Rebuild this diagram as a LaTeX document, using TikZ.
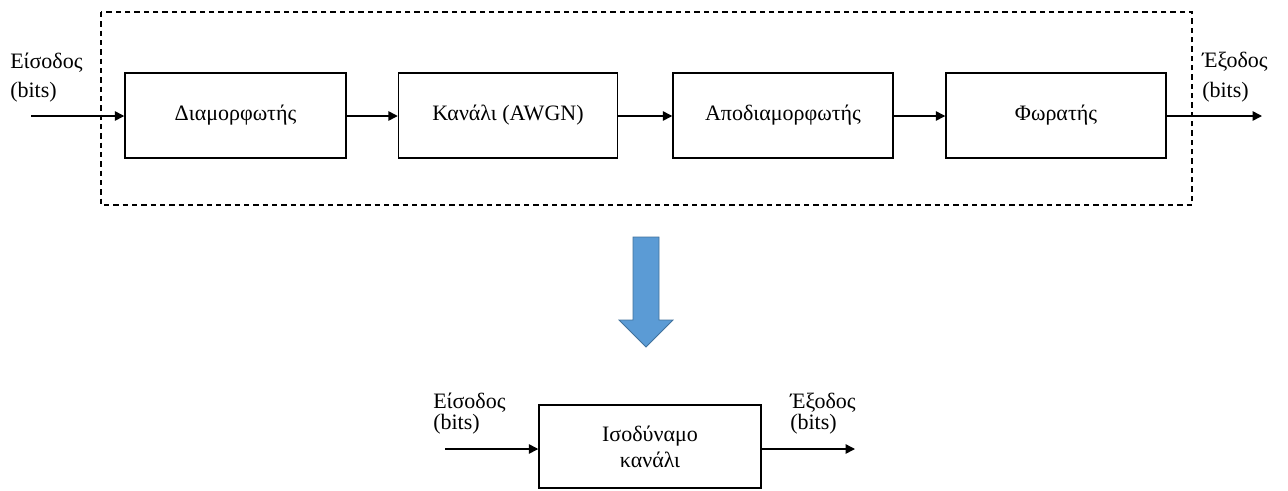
\documentclass[tikz,border=0pt]{standalone}
\usepackage{fontspec}
\setmainfont{Liberation Serif}
\usetikzlibrary{arrows.meta}
\begin{document}
\begin{tikzpicture}[x=0.75pt,y=-0.75pt,
  blk/.style={draw,line width=1.1pt,inner sep=0pt,font=\fontsize{16.5}{20}\selectfont},
  flow/.style={line width=1.1pt,-{Triangle[length=7pt,width=7pt]}},
  lbl/.style={inner sep=0pt,anchor=base west,font=\fontsize{16.5}{20}\selectfont},
  frame/.style={draw,line width=0.9pt,dash pattern=on 4pt off 3pt},
  bigarrow/.style={fill={rgb,255:red,91;green,155;blue,213},draw={rgb,255:red,65;green,113;blue,156},line width=0.6pt}]
\useasboundingbox (0,0) rectangle (1288,490);

% dashed frame around the transmission chain
\draw[frame] (101,12) rectangle (1192,205);

% processing chain
\node[blk,minimum width={221*0.75pt},minimum height={85*0.75pt}] (mod) at (235.5,115.5) {Διαμορφωτής};
\node[blk,minimum width={219*0.75pt},minimum height={85*0.75pt}] (chan) at (508,115.5) {Κανάλι (AWGN)};
\node[blk,minimum width={220*0.75pt},minimum height={85*0.75pt}] (demod) at (783,115.5) {Αποδιαμορφωτής};
\node[blk,minimum width={220*0.75pt},minimum height={85*0.75pt}] (det) at (1056,115.5) {Φωρατής};

% signal line of the chain
\coordinate (in1) at (31,116);
\coordinate (out1) at (1262,116);
\draw[flow] (in1) -- (in1 -| mod.west);
\draw[flow] (mod.east |- in1) -- (chan.west |- in1);
\draw[flow] (chan.east |- in1) -- (demod.west |- in1);
\draw[flow] (demod.east |- in1) -- (det.west |- in1);
\draw[flow] (det.east |- out1) -- (out1);

\node[lbl] (inlab1) at (10,68) {Είσοδος};
\node[lbl] (inbits1) at (10,97) {(bits)};
\node[lbl] (outlab1) at (1202,67) {Έξοδος};
\node[lbl] (outbits1) at (1202,97) {(bits)};

% reduction arrow
\draw[bigarrow] (633,237) -- (659,237) -- (659,320) -- (673,320) -- (646,347) -- (619,320) -- (633,320) -- cycle;

% equivalent channel
\node[blk,minimum width={222*0.75pt},minimum height={83*0.75pt},align=center,
  font=\fontsize{16.5}{19.5}\selectfont] (eq) at (650,446.5) {Ισοδύναμο\\κανάλι};
\coordinate (in2) at (445,449);
\coordinate (out2) at (855,449);
\draw[flow] (in2) -- (in2 -| eq.west);
\draw[flow] (out2 -| eq.east) -- (out2);

\node[lbl] (inlab2) at (433,408) {Είσοδος};
\node[lbl] (inbits2) at (433,429) {(bits)};
\node[lbl] (outlab2) at (790,408) {Έξοδος};
\node[lbl] (outbits2) at (790,429) {(bits)};
\end{tikzpicture}
\end{document}
